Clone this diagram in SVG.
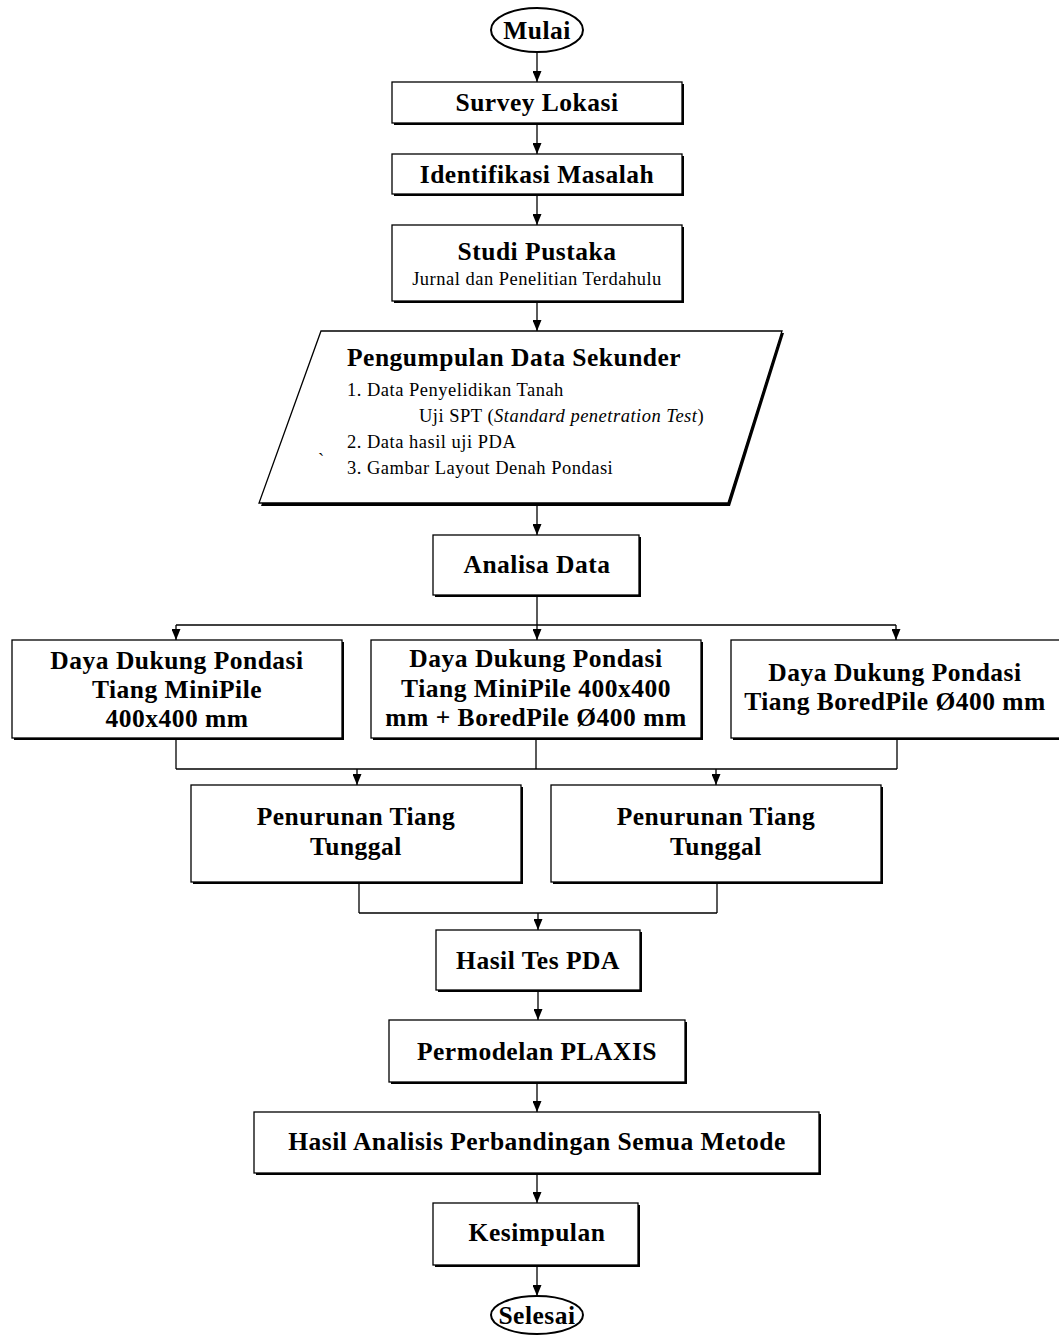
<svg xmlns="http://www.w3.org/2000/svg" width="1059" height="1336" viewBox="0 0 1059 1336">
<defs>
<marker id="ah" markerUnits="userSpaceOnUse" markerWidth="12" markerHeight="9" refX="11" refY="4.5" orient="auto">
<path d="M0,0 L11,4.5 L0,9 Z" fill="#000"/>
</marker>
<style>
.box{fill:#fff;stroke:#000;stroke-width:1.3}
.sh{fill:#000}
.t{font-family:"Liberation Serif","Times New Roman",serif;font-weight:bold;font-size:25.5px;letter-spacing:0.5px;text-anchor:middle;fill:#000}
.r{font-family:"Liberation Serif","Times New Roman",serif;font-size:18.5px;letter-spacing:0.5px;fill:#000}
.c line{stroke:#000;stroke-width:1.3;fill:none}
</style>
</defs>
<rect width="1059" height="1336" fill="#fff"/>

<g class="c" id="connectors">
<line x1="537" y1="52" x2="537" y2="82" marker-end="url(#ah)"/>
<line x1="537" y1="123" x2="537" y2="154" marker-end="url(#ah)"/>
<line x1="537" y1="194" x2="537" y2="225" marker-end="url(#ah)"/>
<line x1="537" y1="301" x2="537" y2="331" marker-end="url(#ah)"/>
<line x1="537" y1="504" x2="537" y2="535" marker-end="url(#ah)"/>
<line x1="537" y1="595" x2="537" y2="640" marker-end="url(#ah)"/>
<line x1="176" y1="625" x2="896" y2="625"/>
<line x1="176" y1="625" x2="176" y2="640" marker-end="url(#ah)"/>
<line x1="896" y1="625" x2="896" y2="640" marker-end="url(#ah)"/>
<line x1="176" y1="738" x2="176" y2="769"/>
<line x1="536" y1="738" x2="536" y2="769"/>
<line x1="897" y1="739" x2="897" y2="769"/>
<line x1="176" y1="769" x2="897" y2="769"/>
<line x1="357" y1="769" x2="357" y2="785" marker-end="url(#ah)"/>
<line x1="716" y1="769" x2="716" y2="785" marker-end="url(#ah)"/>
<line x1="359" y1="882" x2="359" y2="913"/>
<line x1="717" y1="882" x2="717" y2="913"/>
<line x1="359" y1="913" x2="717" y2="913"/>
<line x1="538" y1="913" x2="538" y2="930" marker-end="url(#ah)"/>
<line x1="538" y1="990" x2="538" y2="1020" marker-end="url(#ah)"/>
<line x1="537" y1="1082" x2="537" y2="1112" marker-end="url(#ah)"/>
<line x1="537" y1="1173" x2="537" y2="1203" marker-end="url(#ah)"/>
<line x1="537" y1="1265" x2="537" y2="1296" marker-end="url(#ah)"/>
</g>

<g id="mulai">
<ellipse cx="537" cy="30" rx="46" ry="22" fill="#fff" stroke="#000" stroke-width="2"/>
<text class="t" x="537" y="39">Mulai</text>
</g>

<g id="survey">
<rect class="sh" x="394" y="84" width="290" height="41"/>
<rect class="box" x="392" y="82" width="290" height="41"/>
<text class="t" x="537" y="111">Survey Lokasi</text>
</g>

<g id="identifikasi">
<rect class="sh" x="394" y="156" width="290" height="40"/>
<rect class="box" x="392" y="154" width="290" height="40"/>
<text class="t" x="537" y="183">Identifikasi Masalah</text>
</g>

<g id="studi">
<rect class="sh" x="394" y="227" width="290" height="76"/>
<rect class="box" x="392" y="225" width="290" height="76"/>
<text class="t" x="537" y="260">Studi Pustaka</text>
<text class="r" x="537" y="285" text-anchor="middle">Jurnal dan Penelitian Terdahulu</text>
</g>

<g id="pengumpulan">
<polygon class="sh" points="323,333 784,333 730,506 261,506"/>
<polygon class="box" points="321,331 782,331 728,503 259,503"/>
<text class="t" x="347" y="366" style="text-anchor:start">Pengumpulan Data Sekunder</text>
<text class="r" x="347" y="396">1. Data Penyelidikan Tanah</text>
<text class="r" x="419" y="422">Uji SPT (<tspan font-style="italic">Standard penetration Test</tspan>)</text>
<text class="r" x="347" y="448">2. Data hasil uji PDA</text>
<text class="r" x="318" y="466">`</text>
<text class="r" x="347" y="474">3. Gambar Layout Denah Pondasi</text>
</g>

<g id="analisa">
<rect class="sh" x="435" y="537" width="206" height="60"/>
<rect class="box" x="433" y="535" width="206" height="60"/>
<text class="t" x="537" y="573">Analisa Data</text>
</g>

<g id="minipile">
<rect class="sh" x="14" y="642" width="330" height="98"/>
<rect class="box" x="12" y="640" width="330" height="98"/>
<text class="t" x="177" y="669">Daya Dukung Pondasi</text>
<text class="t" x="177" y="698">Tiang MiniPile</text>
<text class="t" x="177" y="727">400x400 mm</text>
</g>

<g id="kombinasi">
<rect class="sh" x="373" y="642" width="330" height="98"/>
<rect class="box" x="371" y="640" width="330" height="98"/>
<text class="t" x="536" y="667">Daya Dukung Pondasi</text>
<text class="t" x="536" y="697">Tiang MiniPile 400x400</text>
<text class="t" x="536" y="726">mm + BoredPile Ø400 mm</text>
</g>

<g id="boredpile">
<rect class="sh" x="733" y="642" width="330" height="98"/>
<rect class="box" x="731" y="640" width="330" height="98"/>
<text class="t" x="895" y="681">Daya Dukung Pondasi</text>
<text class="t" x="895" y="710">Tiang BoredPile Ø400 mm</text>
</g>

<g id="penurunan1">
<rect class="sh" x="193" y="787" width="330" height="97"/>
<rect class="box" x="191" y="785" width="330" height="97"/>
<text class="t" x="356" y="825">Penurunan Tiang</text>
<text class="t" x="356" y="855">Tunggal</text>
</g>

<g id="penurunan2">
<rect class="sh" x="553" y="787" width="330" height="97"/>
<rect class="box" x="551" y="785" width="330" height="97"/>
<text class="t" x="716" y="825">Penurunan Tiang</text>
<text class="t" x="716" y="855">Tunggal</text>
</g>

<g id="pda">
<rect class="sh" x="438" y="932" width="204" height="60"/>
<rect class="box" x="436" y="930" width="204" height="60"/>
<text class="t" x="538" y="969">Hasil Tes PDA</text>
</g>

<g id="plaxis">
<rect class="sh" x="391" y="1022" width="296" height="62"/>
<rect class="box" x="389" y="1020" width="296" height="62"/>
<text class="t" x="537" y="1060">Permodelan PLAXIS</text>
</g>

<g id="hasil-analisis">
<rect class="sh" x="256" y="1114" width="565" height="61"/>
<rect class="box" x="254" y="1112" width="565" height="61"/>
<text class="t" x="537" y="1150">Hasil Analisis Perbandingan Semua Metode</text>
</g>

<g id="kesimpulan">
<rect class="sh" x="435" y="1205" width="205" height="62"/>
<rect class="box" x="433" y="1203" width="205" height="62"/>
<text class="t" x="537" y="1241">Kesimpulan</text>
</g>

<g id="selesai">
<ellipse cx="537" cy="1315" rx="46" ry="19" fill="#fff" stroke="#000" stroke-width="2"/>
<text class="t" x="537" y="1324">Selesai</text>
</g>
</svg>
